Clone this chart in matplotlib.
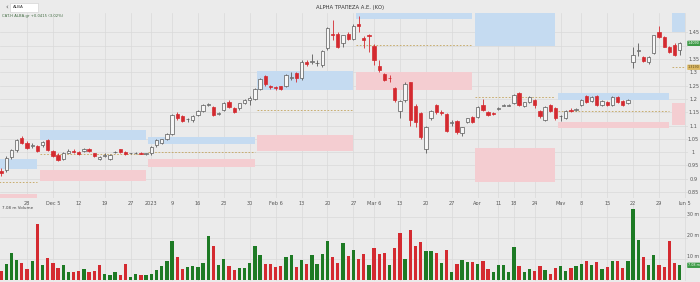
import numpy as np
import matplotlib.pyplot as plt
import matplotlib.transforms as mtransforms
from matplotlib.patches import Rectangle

# daily OHLC, one entry per trading day (21 Nov 2022 .. 2 Jun 2023)
opens = [0.930, 0.933, 0.980, 1.007, 1.052, 1.034, 1.024, 1.022, 1.026, 1.045,
         1.004, 0.990, 0.974, 0.998, 1.003, 1.000, 1.006, 1.012, 0.996, 0.975,
         0.986, 0.975, 0.999, 1.010, 1.000, 0.996, 0.996, 0.998, 0.993, 0.996,
         1.026, 1.034, 1.048, 1.070, 1.145, 1.135, 1.123, 1.120, 1.139, 1.154,
         1.179, 1.170, 1.145, 1.160, 1.190, 1.165, 1.165, 1.184, 1.195, 1.200,
         1.236, 1.285, 1.248, 1.246, 1.247, 1.247, 1.279, 1.296, 1.277, 1.340,
         1.339, 1.334, 1.326, 1.390, 1.445, 1.446, 1.410, 1.446, 1.424, 1.482,
         1.430, 1.440, 1.400, 1.322, 1.292, 1.280, 1.240, 1.154, 1.195, 1.262,
         1.172, 1.146, 1.011, 1.127, 1.176, 1.152, 1.142, 1.110, 1.116, 1.071,
         1.112, 1.131, 1.131, 1.176, 1.150, 1.147, 1.163, 1.175, 1.175, 1.184,
         1.221, 1.172, 1.187, 1.195, 1.154, 1.120, 1.176, 1.165, 1.134, 1.127,
         1.159, 1.158, 1.176, 1.210, 1.191, 1.210, 1.176, 1.187, 1.176, 1.206,
         1.191, 1.184, 1.337, 1.382, 1.356, 1.337, 1.371, 1.450, 1.431, 1.394,
         1.401, 1.383]
highs = [0.940, 0.985, 1.012, 1.050, 1.060, 1.040, 1.035, 1.025, 1.040, 1.050,
         1.008, 0.995, 1.000, 1.012, 1.010, 1.005, 1.015, 1.016, 0.998, 0.985,
         0.995, 0.993, 1.005, 1.013, 1.003, 0.998, 0.999, 1.000, 0.997, 1.022,
         1.050, 1.050, 1.072, 1.145, 1.150, 1.140, 1.130, 1.140, 1.158, 1.180,
         1.186, 1.175, 1.152, 1.190, 1.195, 1.170, 1.186, 1.198, 1.210, 1.240,
         1.278, 1.290, 1.252, 1.250, 1.250, 1.292, 1.300, 1.300, 1.345, 1.345,
         1.370, 1.345, 1.385, 1.470, 1.495, 1.450, 1.442, 1.450, 1.480, 1.510,
         1.435, 1.446, 1.405, 1.345, 1.296, 1.290, 1.245, 1.195, 1.262, 1.265,
         1.180, 1.150, 1.098, 1.158, 1.180, 1.160, 1.146, 1.120, 1.120, 1.096,
         1.130, 1.135, 1.172, 1.200, 1.155, 1.150, 1.170, 1.180, 1.180, 1.218,
         1.225, 1.190, 1.210, 1.200, 1.158, 1.172, 1.180, 1.168, 1.140, 1.158,
         1.165, 1.165, 1.198, 1.214, 1.210, 1.214, 1.195, 1.192, 1.210, 1.210,
         1.195, 1.198, 1.394, 1.410, 1.360, 1.362, 1.442, 1.476, 1.435, 1.398,
         1.410, 1.415]
lows = [0.910, 0.925, 0.975, 1.000, 1.030, 1.010, 1.015, 1.000, 1.020, 1.005,
        0.980, 0.965, 0.970, 0.995, 0.995, 0.990, 1.000, 1.000, 0.982, 0.970,
        0.980, 0.972, 0.995, 0.997, 0.990, 0.993, 0.993, 0.992, 0.990, 0.990,
        1.020, 1.030, 1.045, 1.065, 1.120, 1.113, 1.115, 1.115, 1.135, 1.150,
        1.175, 1.135, 1.140, 1.155, 1.167, 1.147, 1.160, 1.180, 1.176, 1.195,
        1.232, 1.250, 1.238, 1.235, 1.232, 1.244, 1.270, 1.265, 1.270, 1.325,
        1.330, 1.325, 1.320, 1.385, 1.420, 1.390, 1.397, 1.420, 1.420, 1.450,
        1.390, 1.375, 1.326, 1.300, 1.268, 1.265, 1.190, 1.130, 1.190, 1.100,
        1.095, 1.050, 0.996, 1.120, 1.145, 1.140, 1.075, 1.100, 1.070, 1.060,
        1.108, 1.108, 1.128, 1.155, 1.135, 1.138, 1.158, 1.172, 1.172, 1.180,
        1.172, 1.168, 1.183, 1.165, 1.130, 1.118, 1.150, 1.122, 1.118, 1.123,
        1.152, 1.154, 1.172, 1.184, 1.188, 1.174, 1.172, 1.174, 1.172, 1.184,
        1.174, 1.180, 1.315, 1.360, 1.338, 1.333, 1.368, 1.428, 1.394, 1.372,
        1.360, 1.365]
closes = [0.920, 0.977, 1.007, 1.045, 1.034, 1.015, 1.026, 1.004, 1.037, 1.007,
          0.985, 0.970, 0.996, 1.005, 0.999, 0.994, 1.012, 1.006, 0.985, 0.980,
          0.988, 0.990, 1.001, 1.000, 0.993, 0.997, 0.997, 0.994, 0.994, 1.020,
          1.045, 1.048, 1.070, 1.140, 1.130, 1.116, 1.125, 1.135, 1.154, 1.176,
          1.181, 1.140, 1.147, 1.184, 1.170, 1.150, 1.183, 1.195, 1.205, 1.236,
          1.274, 1.255, 1.244, 1.241, 1.236, 1.289, 1.281, 1.277, 1.340, 1.330,
          1.341, 1.336, 1.380, 1.465, 1.440, 1.394, 1.440, 1.424, 1.476, 1.476,
          1.420, 1.438, 1.345, 1.307, 1.270, 1.278, 1.195, 1.191, 1.255, 1.120,
          1.112, 1.056, 1.094, 1.154, 1.150, 1.148, 1.079, 1.112, 1.075, 1.094,
          1.127, 1.112, 1.169, 1.157, 1.139, 1.143, 1.166, 1.177, 1.177, 1.214,
          1.176, 1.187, 1.206, 1.176, 1.135, 1.169, 1.154, 1.127, 1.136, 1.154,
          1.156, 1.161, 1.195, 1.187, 1.206, 1.176, 1.191, 1.176, 1.206, 1.187,
          1.176, 1.195, 1.364, 1.384, 1.341, 1.356, 1.439, 1.431, 1.397, 1.375,
          1.364, 1.409]

# volume in millions, and its colour direction (1 = up day, 0 = down day)
volumes = [4.4, 7.5, 13.0, 9.5, 8.1, 5.2, 8.9, 26.7, 7.0, 10.5,
           8.4, 5.6, 7.1, 4.0, 3.7, 4.4, 5.4, 3.7, 4.5, 7.3,
           2.7, 2.4, 3.8, 2.4, 7.8, 1.3, 2.9, 2.5, 2.5, 2.7,
           4.9, 6.7, 8.9, 18.7, 11.1, 5.2, 6.3, 6.7, 6.2, 8.1,
           21.0, 16.3, 7.1, 10.3, 6.7, 4.9, 5.7, 5.7, 8.4, 16.2,
           12.2, 7.5, 7.5, 6.3, 6.8, 10.8, 12.2, 6.3, 9.5, 7.9,
           11.9, 7.6, 12.4, 18.7, 10.8, 8.4, 17.5, 11.4, 14.3, 10.3,
           12.4, 7.0, 15.1, 12.4, 13.0, 7.0, 15.1, 22.7, 10.0, 23.7,
           16.3, 18.1, 13.8, 14.0, 12.7, 8.4, 14.6, 4.0, 7.9, 9.5,
           8.6, 8.6, 7.6, 8.9, 5.1, 4.0, 7.0, 7.1, 3.7, 15.9,
           6.8, 3.7, 5.1, 4.3, 6.8, 4.8, 2.9, 5.6, 6.8, 4.4,
           5.6, 6.7, 7.9, 8.9, 7.0, 8.6, 5.1, 6.2, 8.9, 9.2,
           5.9, 9.0, 33.7, 18.9, 10.8, 7.0, 12.2, 7.3, 6.3, 18.7,
           8.1, 7.08]
vol_dir = ("0111001010" "0011001000" "1110011011" "1111001111" "1011001111"
           "1000011010" "1111001010" "0100010010" "0011010101" "1010011111"
           "0110010011" "0110101010" "0111011000" "01")

# monthly zones: first / last trading-day index, upper band, lower band, mid line
month_start = [0, 8, 29, 50, 69, 92, 108, 130]
month_end = [7, 28, 49, 68, 91, 107, 129, 132]
blue_lo = [0.935, 1.045, 1.030, 1.235, 1.500, 1.400, 1.195, 1.451]
blue_hi = [0.9725, 1.085, 1.055, 1.304, 1.600, 1.600, 1.222, 1.600]
red_lo = [0.800, 0.8925, 0.9425, 1.004, 1.232, 0.889, 1.089, 1.101]
red_hi = [0.843, 0.9325, 0.9725, 1.064, 1.301, 1.014, 1.114, 1.185]
mid_level = [0.889, 0.993, 1.000, 1.157, 1.401, 1.207, 1.155, 1.319]

week_idx = [5, 10, 15, 20, 25, 29, 33, 38, 43, 48, 53, 58, 63, 68, 72, 77, 82,
            87, 92, 96, 99, 103, 108, 112, 117, 122, 127, 132]
week_labels = ["28", "Dec 5", "12", "19", "27", "2023", "9", "16", "23", "30",
               "Feb 6", "13", "20", "27", "Mar 6", "13", "20", "27", "Apr", "11",
               "18", "24", "May", "8", "15", "22", "29", "Jun 5"]

bg = "#ebebeb"
grid_c = "#d9d9d9"
red = "#d42a30"
green = "#1d7a24"

o = np.array(opens)
h = np.array(highs)
l = np.array(lows)
c = np.array(closes)
idx = np.arange(len(c))
up = c >= o

fig = plt.figure(figsize=(7, 2.82), dpi=100, facecolor=bg)
ax = fig.add_axes([0, 1 - 198 / 282, 688 / 700, (198 - 12.5) / 282], facecolor=bg)
axv = fig.add_axes([0, 1 - 281 / 282, 688 / 700, (281 - 205) / 282], facecolor=bg)

# zones
for k in range(len(month_start)):
    x0 = month_start[k] - 0.55
    w = month_end[k] - month_start[k] + 0.5
    ax.add_patch(Rectangle((x0, blue_lo[k]), w, blue_hi[k] - blue_lo[k],
                           fc="#c5dbf1", ec="none", zorder=1))
    ax.add_patch(Rectangle((x0, red_lo[k]), w, red_hi[k] - red_lo[k],
                           fc="#f4cdd1", ec="none", zorder=1))
    ax.hlines(mid_level[k], x0, x0 + w, colors="#c3a45c",
              linestyles=(0, (2, 2)), lw=0.6, zorder=1.5)

# candles
edge = np.where(up, "#5a5a5a", red)
face = np.where(up, "#f6f6f6", red)
body_lo = np.minimum(o, c)
body_h = np.maximum(np.abs(c - o), 0.002)
ax.vlines(idx, l, h, colors=edge, lw=0.6, zorder=2)
ax.bar(idx, body_h, 0.64, bottom=body_lo, color=face, edgecolor=edge,
       linewidth=0.5, zorder=3)

ax.set_xlim(-0.21, 132.6)
ax.set_ylim(0.8275, 1.525)
yt = np.round(np.arange(0.85, 1.46, 0.05), 2)
# the 1.4 label sits under the last-price tag
ax.set_yticks(yt, ["" if v == 1.4 else f"{v:g}" for v in yt])
ax.yaxis.tick_right()
ax.tick_params(axis="y", length=0, pad=4.0, labelsize=3.6, labelcolor="#555555")
for t in ax.get_yticklabels():
    t.set_ha("center")
ax.set_xticks(week_idx, week_labels)
ax.tick_params(axis="x", length=0, pad=2.0, labelsize=3.6, labelcolor="#555555")
ax.grid(True, color=grid_c, lw=0.5)
ax.set_axisbelow(True)
for s in ax.spines.values():
    s.set_visible(False)

# price tags on the right edge
tag_x = 693.8 / 688
tr = mtransforms.blended_transform_factory(ax.transAxes, ax.transData)
ax.text(tag_x, closes[-1], f"{closes[-1]:.4f}", transform=tr, fontsize=2.4,
        color="white", va="center", ha="center", clip_on=False, zorder=6,
        bbox=dict(boxstyle="round,pad=0.2", fc="#3c9a46", ec="none"))
ax.text(tag_x, mid_level[-1], f"{mid_level[-1]:.4f}", transform=tr, fontsize=2.4,
        color="#5a4a20", va="center", ha="center", clip_on=False, zorder=6,
        bbox=dict(boxstyle="round,pad=0.2", fc="#dcb862", ec="none"))

# volume
vup = np.array([ch == "1" for ch in vol_dir])
axv.bar(idx, volumes, 0.64, color=np.where(vup, green, red), zorder=2)
axv.set_xlim(-0.21, 132.6)
axv.set_ylim(-0.4, 35.8)
axv.set_xticks(week_idx)
axv.tick_params(axis="x", length=0, labelbottom=False)
axv.set_yticks([10, 20, 30], ["10 m", "20 m", "30 m"])
axv.yaxis.tick_right()
axv.tick_params(axis="y", length=0, pad=4.0, labelsize=3.4, labelcolor="#555555")
for t in axv.get_yticklabels():
    t.set_ha("center")
    t.set_va("bottom")
axv.grid(True, color=grid_c, lw=0.5)
axv.set_axisbelow(True)
for s in axv.spines.values():
    s.set_visible(False)
trv = mtransforms.blended_transform_factory(axv.transAxes, axv.transData)
axv.text(tag_x, volumes[-1], f"{volumes[-1]:.2f} m", transform=trv, fontsize=2.4,
         color="white", va="center", ha="center", clip_on=False, zorder=6,
         bbox=dict(boxstyle="round,pad=0.2", fc="#3c9a46", ec="none"))
fig.text(2 / 700, 1 - 208 / 282, f"{volumes[-1]:.2f} m Volume", fontsize=3,
         color="#444444", va="center")

# header
fig.text(350 / 700, 1 - 7 / 282, "ALPHA ΤΡΑΠΕΖΑ Α.Ε. (ΚΟ)", fontsize=3.8,
         color="#333333", ha="center", va="center")
fig.patches.append(Rectangle((10 / 700, 1 - 11.5 / 282), 28 / 700, 9 / 282,
                             transform=fig.transFigure, fc="white", ec="#cccccc",
                             lw=0.4))
fig.text(5 / 700, 1 - 7 / 282, "‹", fontsize=5, color="#555555", va="center")
fig.text(12.5 / 700, 1 - 7 / 282, "ALBA", fontsize=3, color="#333333", va="center")
fig.text(2 / 700, 1 - 15.5 / 282, "CAT.H ALBA.gr +0.0415 (3.02%)", fontsize=2.7,
         color="#3f6a3f", va="center")

fig.savefig("out.png", dpi=100, facecolor=bg)
